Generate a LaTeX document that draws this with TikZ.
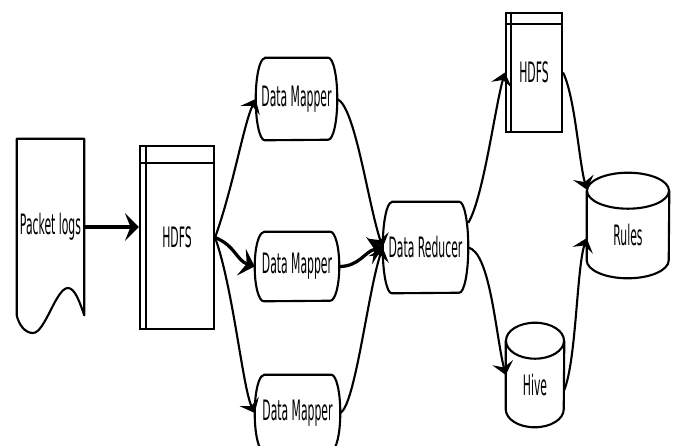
\documentclass[tikz,border=0pt]{standalone}
\usepackage{fontspec}
\setmainfont{DejaVu Sans}[FakeStretch=0.385]
\usetikzlibrary{arrows.meta}

\begin{document}
\begin{tikzpicture}[x=0.025cm, y=-0.025cm,
  every node/.style={font=\fontsize{20}{22}\selectfont, inner sep=0pt},
  outline/.style={line width=1.5pt, line join=round},
  store/.style={draw, line width=1.5pt},
  drum/.style={text height=29pt, text depth=0pt},
  flow/.style={line width=1.5pt, -{Stealth[length=9pt, width=15pt, inset=3.5pt]}},
  mainflow/.style={line width=2.3pt, -{Stealth[length=10pt, width=20pt, inset=4pt]}}]

\useasboundingbox (0,0) rectangle (676,446);

% Shape outlines
\def\pill#1#2{\draw[outline] ([xshift=0.225cm]#1.north west) -- ([xshift=-0.225cm]#1.north east)
  arc[start angle=90, end angle=-90, x radius=0.225cm, y radius=#2]
  -- ([xshift=0.225cm]#1.south west)
  arc[start angle=270, end angle=90, x radius=0.225cm, y radius=#2] -- cycle;}
\def\drum#1#2{\draw[outline] ([yshift=-0.45cm]#1.north) ellipse[x radius=#2, y radius=0.45cm];
  \draw[outline] ([yshift=-0.45cm]#1.north west) -- ([yshift=0.45cm]#1.south west)
  arc[start angle=180, end angle=360, x radius=#2, y radius=0.45cm]
  -- ([yshift=-0.45cm]#1.north east);}
\def\storelines#1#2#3{\draw[outline] ([xshift=#2]#1.north west) -- ([xshift=#2]#1.south west);
  \draw[outline] ([yshift=-#3]#1.north west) -- ([yshift=-#3]#1.north east);}

% Packet logs document
\node[minimum width=1.675cm, minimum height=4.4cm] (logs) at (50.5,227) {Packet logs};
\draw[outline] (logs.south west) -- (logs.north west) -- (logs.north east) -- (logs.south east)
  .. controls (80,303) and (75,288) .. (68,288)
  .. controls (56,288) and (45,333) .. (33,333)
  .. controls (25,333) and (19,325) .. (logs.south west);

% HDFS stores
\node[store, minimum width=1.85cm, minimum height=4.575cm] (h1) at (177,237.5) {HDFS};
\storelines{h1}{0.175cm}{0.45cm}
\node[store, minimum width=1.4cm, minimum height=2.975cm] (h2) at (534,72.5) {HDFS};
\storelines{h2}{0.15cm}{0.3cm}

% Mappers and reducer
\node[minimum width=2.025cm, minimum height=2.05cm] (m1) at (296.5,99) {Data Mapper};
\pill{m1}{1.025cm}
\node[minimum width=2.1cm, minimum height=1.725cm] (m2) at (297,266.5) {Data Mapper};
\pill{m2}{0.8625cm}
\node[minimum width=2.125cm, minimum height=1.9cm] (m3) at (297.5,413) {Data Mapper};
\pill{m3}{0.95cm}
\node[minimum width=2.125cm, minimum height=2.275cm] (red) at (425.5,247.5) {Data Reducer};
\pill{red}{1.1375cm}

% Hive and Rules
\node[drum, minimum width=1.45cm, minimum height=2.6cm] (hive) at (535,375) {Hive};
\drum{hive}{0.725cm}
\node[drum, minimum width=2.05cm, minimum height=2.625cm] (rules) at (628,225.5) {Rules};
\drum{rules}{1.025cm}

% Connectors
\draw[mainflow] (logs.east) -- (logs.east -| h1.west);
\draw[flow] (h1.east) .. controls +(18,-50) and +(-12,25) .. (m1.west);
\draw[mainflow] (h1.east) .. controls +(20,8) and +(-18,-6) .. (m2.west);
\draw[flow] (h1.east) .. controls +(18,50) and +(-12,-25) .. (m3.west);
\draw[flow] (m1.east) .. controls +(18,8) and +(-15,-45) .. (red.west);
\draw[mainflow] (m2.east) .. controls +(20,0) and +(-18,4) .. (red.west);
\draw[flow] (m3.east) .. controls +(15,-8) and +(-15,45) .. (red.west);
\draw[flow] (red.30) .. controls +(15,-25) and +(-10,35) .. (h2.west);
\draw[flow] (red.east) .. controls +(22,5) and +(-10,-40) .. (hive.west);
\draw[flow] (h2.east) .. controls +(12,25) and +(-8,-30) .. (rules.139);
\draw[flow] (hive.-27) .. controls +(12,-30) and +(-10,30) .. (rules.197);

\end{tikzpicture}
\end{document}
